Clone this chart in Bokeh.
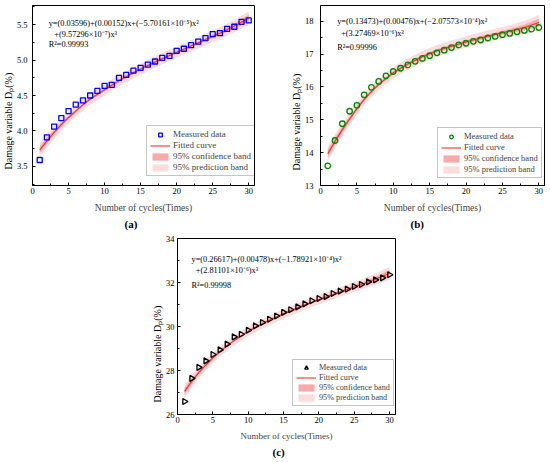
import numpy as np
from bokeh.plotting import figure
from bokeh.models import Range1d, FixedTicker, PrintfTickFormatter, Legend, LegendItem, Title, Spacer
from bokeh.layouts import row, column
from bokeh.embed import file_html
from bokeh.resources import INLINE
from bokeh.core.properties import value

SERIF = "Liberation Serif"

# ---------------- data ----------------
cycles = list(range(1, 31))
damage_a = [3.59, 3.91, 4.06, 4.18, 4.28, 4.37, 4.43, 4.50, 4.565, 4.635, 4.65, 4.75, 4.79, 4.85, 4.89,
            4.935, 4.98, 5.03, 5.06, 5.13, 5.16, 5.21, 5.26, 5.31, 5.365, 5.38, 5.44, 5.47, 5.54, 5.56]
damage_b = [13.60, 14.37, 14.88, 15.26, 15.44, 15.76, 15.99, 16.17, 16.34, 16.47, 16.57, 16.67, 16.78, 16.87, 16.95,
            17.04, 17.12, 17.20, 17.28, 17.33, 17.39, 17.43, 17.49, 17.54, 17.59, 17.63, 17.68, 17.72, 17.76, 17.81]
damage_c = [26.59, 27.64, 28.14, 28.44, 28.73, 28.94, 29.20, 29.53, 29.65, 29.83, 30.03, 30.18, 30.33, 30.48, 30.64,
            30.76, 30.89, 31.03, 31.17, 31.27, 31.36, 31.50, 31.61, 31.70, 31.82, 31.91, 32.03, 32.12, 32.21, 32.35]

fit_x = [1, 2, 3, 4, 5, 6, 7, 8, 10, 12, 14, 16, 18, 20, 22, 24, 26, 28, 30]
fit_a = [3.73, 3.86, 3.98, 4.09, 4.19, 4.28, 4.37, 4.45, 4.58, 4.71, 4.82, 4.925, 5.02, 5.11, 5.20, 5.29, 5.38, 5.48, 5.59]
fit_b = [13.97, 14.35, 14.70, 15.03, 15.34, 15.62, 15.86, 16.08, 16.43, 16.70, 16.92, 17.10, 17.24, 17.37, 17.49,
         17.60, 17.70, 17.81, 17.96]
fit_c = [27.05, 27.50, 27.90, 28.25, 28.57, 28.86, 29.12, 29.36, 29.78, 30.12, 30.43, 30.72, 30.98, 31.22, 31.45,
         31.68, 31.91, 32.15, 32.42]

conf_a = [0.05, 0.042, 0.035, 0.03, 0.026, 0.023, 0.022, 0.021, 0.021, 0.022, 0.022, 0.022, 0.022, 0.021, 0.021,
          0.023, 0.027, 0.035, 0.05]
pred_a = [0.095, 0.09, 0.087, 0.084, 0.082, 0.08, 0.08, 0.079, 0.079, 0.079, 0.079, 0.079, 0.079, 0.079, 0.079,
          0.08, 0.083, 0.088, 0.095]
conf_b = [0.12, 0.10, 0.085, 0.073, 0.064, 0.058, 0.054, 0.052, 0.051, 0.053, 0.055, 0.055, 0.054, 0.052, 0.052,
          0.056, 0.066, 0.086, 0.12]
pred_b = [0.23, 0.215, 0.2, 0.19, 0.183, 0.178, 0.175, 0.173, 0.172, 0.173, 0.174, 0.174, 0.173, 0.172, 0.172,
          0.174, 0.18, 0.195, 0.23]
conf_c = [0.15, 0.125, 0.105, 0.09, 0.08, 0.072, 0.067, 0.064, 0.063, 0.066, 0.068, 0.068, 0.066, 0.064, 0.064,
          0.068, 0.08, 0.105, 0.15]
pred_c = [0.30, 0.28, 0.262, 0.25, 0.238, 0.228, 0.222, 0.218, 0.215, 0.215, 0.216, 0.216, 0.215, 0.214, 0.215,
          0.218, 0.228, 0.255, 0.30]

x_ticks = [0, 5, 10, 15, 20, 25, 30]
x_minor = [2.5, 7.5, 12.5, 17.5, 22.5, 27.5]
y_ticks_a = [3.5, 4.0, 4.5, 5.0, 5.5]
y_minor_a = [3.25, 3.75, 4.25, 4.75, 5.25, 5.75]
y_ticks_b = [13, 14, 15, 16, 17, 18]
y_minor_b = [13.5, 14.5, 15.5, 16.5, 17.5]
y_ticks_c = [26, 28, 30, 32, 34]
y_minor_c = [27, 29, 31, 33]

eq_a = ["y=(0.03596)+(0.00152)x+(\u22125.70161\u00d710\u207b\u2075)x\u00b2",
        "+(9.57296\u00d710\u207b\u2077)x\u00b3", "R\u00b2=0.99993"]
eq_b = ["y=(0.13473)+(0.00476)x+(\u22122.07573\u00d710\u207b\u2074)x\u00b2",
        "+(3.27469\u00d710\u207b\u2076)x\u00b3", "R\u00b2=0.99996"]
eq_c = ["y=(0.26617)+(0.00478)x+(\u22121.78921\u00d710\u207b\u2074)x\u00b2",
        "+(2.81101\u00d710\u207b\u2076)x\u00b3", "R\u00b2=0.99998"]

legend_labels = ["Measured data", "Fitted curve", "95% confidence band", "95% prediction band"]
x_title = "Number of cycles(Times)"
y_title = "Damage variable D\u209a(%)"

LINE_COLOR = "#F03030"
CONF_COLOR = "#F9A9A9"
PRED_COLOR = "#FCDCDC"


def make_panel(width, height, borders, y_range, y_ticks, y_minor, y_fmt, x_max,
               damage, fit, conf, pred, marker, mcolor, msize, mangle,
               eq, eq_x, eq_y, legend_loc, legend_font, ylab_offset, tag, tag_offset,
               y_standoff, xlab_font="9.5px", xlab_standoff=6):
    bl, br, bt, bb = borders
    p = figure(width=width, height=height, x_range=Range1d(0, x_max), y_range=Range1d(*y_range),
               output_backend="svg", toolbar_location=None,
               min_border_left=bl, min_border_right=br, min_border_top=bt, min_border_bottom=bb)
    p.xgrid.visible = False
    p.ygrid.visible = False
    p.outline_line_color = "black"
    p.outline_line_width = 1
    p.background_fill_color = "white"
    p.border_fill_color = "white"

    xa = p.xaxis[0]
    xa.ticker = FixedTicker(ticks=x_ticks, minor_ticks=x_minor)
    xa.axis_label = x_title
    xa.axis_label_text_font = SERIF
    xa.axis_label_text_font_style = "normal"
    xa.axis_label_text_font_size = xlab_font
    xa.axis_label_standoff = xlab_standoff
    ya = p.yaxis[0]
    ya.ticker = FixedTicker(ticks=y_ticks, minor_ticks=y_minor)
    ya.formatter = PrintfTickFormatter(format=y_fmt)
    for ax in (xa, ya):
        ax.axis_line_color = "black"
        ax.major_tick_line_color = "black"
        ax.minor_tick_line_color = "black"
        ax.major_tick_out = 0
        ax.major_tick_in = 3
        ax.minor_tick_out = 0
        ax.minor_tick_in = 2
        ax.major_label_text_font = SERIF
        ax.major_label_text_font_size = "8.5px"
        ax.major_label_text_color = "black"
    xa.major_label_standoff = 2
    ya.major_label_standoff = y_standoff

    lower_p = np.array(fit) - np.array(pred)
    upper_p = np.array(fit) + np.array(pred)
    lower_c = np.array(fit) - np.array(conf)
    upper_c = np.array(fit) + np.array(conf)
    pb = p.varea(x=fit_x, y1=lower_p, y2=upper_p, fill_color=PRED_COLOR, fill_alpha=1)
    cb = p.varea(x=fit_x, y1=lower_c, y2=upper_c, fill_color=CONF_COLOR, fill_alpha=1)
    ln = p.line(x=fit_x, y=fit, line_color=LINE_COLOR, line_width=1.1)
    sc = p.scatter(x=cycles, y=damage, marker=marker, size=msize, angle=mangle,
                   fill_color=None, line_color=mcolor, line_width=1.3)

    p.text(x=[eq_x[0], eq_x[1], eq_x[0]], y=eq_y, text=eq, text_font=value(SERIF),
           text_font_size="8.3px", text_baseline="middle", text_align="left",
           text_color="black")

    legend = Legend(items=[LegendItem(label=legend_labels[0], renderers=[sc]),
                           LegendItem(label=legend_labels[1], renderers=[ln]),
                           LegendItem(label=legend_labels[2], renderers=[cb]),
                           LegendItem(label=legend_labels[3], renderers=[pb])],
                    location=legend_loc)
    legend.label_text_font = SERIF
    legend.label_text_font_size = legend_font
    legend.glyph_width = 20
    legend.glyph_height = 9
    legend.label_height = 9
    legend.label_standoff = 3
    legend.spacing = 1
    legend.padding = 3
    legend.margin = 0
    legend.border_line_color = "#8c8c8c"
    legend.border_line_width = 1
    legend.background_fill_color = "white"
    legend.background_fill_alpha = 1
    p.add_layout(legend)

    p.add_layout(Title(text=y_title, align="left", offset=ylab_offset, standoff=0,
                       text_font=SERIF, text_font_style="normal", text_font_size="10px",
                       text_color="black"), "left")
    p.add_layout(Title(text=tag, align="left", offset=tag_offset, standoff=0,
                       text_font=SERIF, text_font_style="bold", text_font_size="11px",
                       text_color="black"), "below")
    return p


pa = make_panel(275, 230, (31, 21, 5, 44), (3.23, 5.77), y_ticks_a, y_minor_a, "%.1f", 30.8,
                damage_a, fit_a, conf_a, pred_a, "square", "#0000FF", 5, 0,
                eq_a, [2.25, 3.03], [5.52, 5.366, 5.216], (114, 9), "9px", 16, "(a)", 92, 5)
pb_ = make_panel(275, 230, (45, 6, 5, 45), (13, 18.48), y_ticks_b, y_minor_b, "%d", 30.78,
                 damage_b, fit_b, conf_b, pred_b, "circle", "#008800", 5.5, 0,
                 eq_b, [2.29, 2.84], [18.0, 17.62, 17.21], (117, 7), "8.5px", 15, "(b)", 90, 7)
pc = make_panel(290, 232, (47, 25, 8, 48), (26, 34), y_ticks_c, y_minor_c, "%d", 30.85,
                damage_c, fit_c, conf_c, pred_c, "triangle", "#000000", 6, -np.pi / 2,
                eq_c, [1.98, 2.59], [33.05, 32.53, 31.88], (115, 8), "8.2px", 12, "(c)", 95, 3,
                xlab_font="9px", xlab_standoff=5)

layout = column(row(pa, pb_), row(Spacer(width=130, height=232), pc))
open("out.html", "w").write(file_html(layout, INLINE))
